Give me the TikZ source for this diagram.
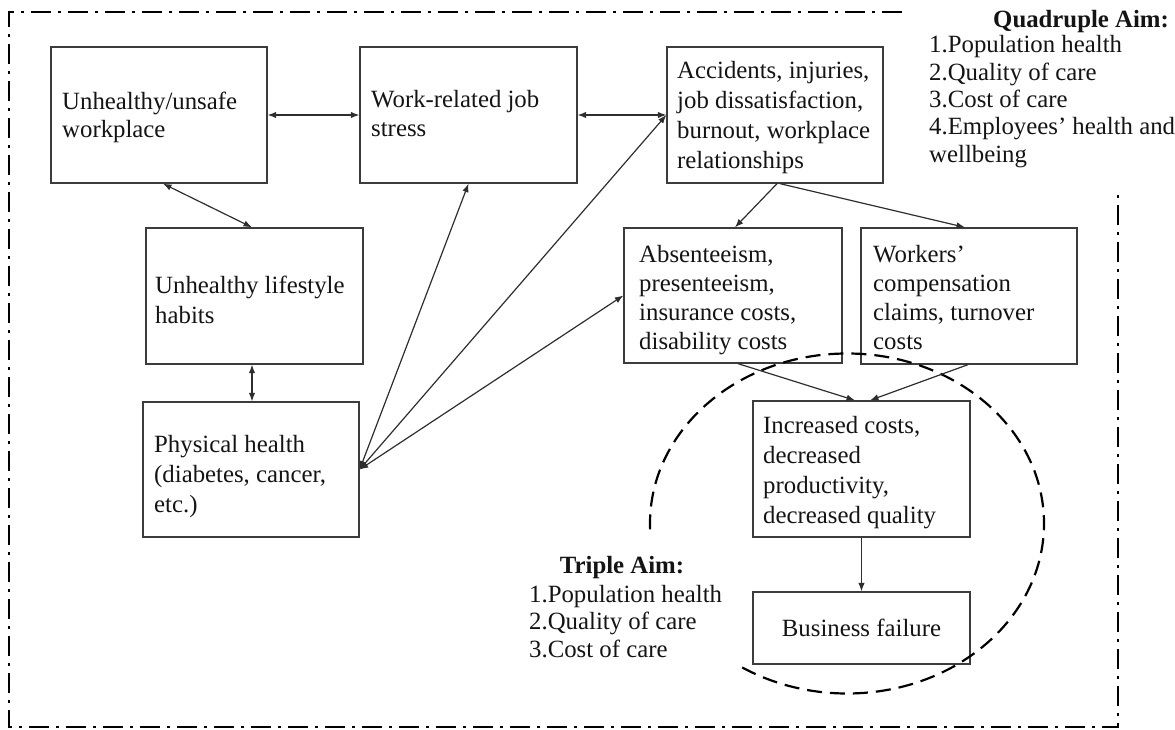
\documentclass[tikz,border=0pt]{standalone}
\usepackage{fontspec}
\setmainfont{Liberation Serif}
\usetikzlibrary{arrows.meta,calc}

\definecolor{boxgray}{HTML}{3C3C3C}
\definecolor{arrowgray}{HTML}{2E2E2E}
\definecolor{inkblack}{HTML}{141414}

% stacked lines with a fixed baseline distance; the baseline is that of the first line
\newcommand\stk[2]{\vtop{\baselineskip=#1\relax\lineskiplimit=-30pt\relax #2}}

\tikzset{
  box/.style={draw=boxgray, line width=1.3pt, rectangle, inner sep=0pt,
              font=\fontsize{24.8pt}{28pt}\selectfont, text=inkblack},
  txt/.style={anchor=base west, inner sep=0pt,
              font=\fontsize{24.8pt}{28pt}\selectfont, text=inkblack},
  aimhead/.style={inner sep=0pt, font=\fontsize{24.8pt}{28pt}\selectfont\bfseries, text=inkblack},
  tip/.tip={Latex[length=8.5pt,width=6.5pt]},
  link/.style={draw=arrowgray, line width=1.2pt, -tip},
  both/.style={draw=arrowgray, line width=1.2pt, tip-tip},
  frame/.style={draw=black, line width=2.3pt, dash pattern=on 20pt off 7pt on 3pt off 7pt},
  aimring/.style={draw=black, line width=2.2pt, dash pattern=on 15pt off 8pt},
}

\begin{document}
\begin{tikzpicture}[x=1pt, y=-1pt]
\useasboundingbox (0,0) rectangle (1175,730);

% outer dash-dot frame, open at the top right corner
\draw[frame] (902,12) -- (9,12) -- (9,727) -- (1118,727) -- (1118,188);

% boxes
\node[box, minimum width=216pt, minimum height=136pt] (b1) at (159,115) {};
\node[box, minimum width=217pt, minimum height=136pt] (b2) at (468.5,115) {};
\node[box, minimum width=216pt, minimum height=136pt] (b3) at (775,115) {};
\node[box, minimum width=217pt, minimum height=136pt] (b4) at (254.5,296) {};
\node[box, minimum width=216pt, minimum height=135pt] (b5) at (251,469.5) {};
\node[box, minimum width=218pt, minimum height=135pt] (b6) at (733,295.5) {};
\node[box, minimum width=216pt, minimum height=136pt] (b7) at (969,296) {};
\node[box, minimum width=217pt, minimum height=136pt] (b8) at (861.5,469) {};
\node[box, minimum width=217pt, minimum height=72pt] (b9) at (861.5,628) {Business failure};

% box texts
\node[txt] (t1) at (62,110) {\stk{28pt}{\hbox{Unhealthy/unsafe}\hbox{workplace}}};
\node[txt] (t2) at (371,108) {\stk{29pt}{\hbox{Work-related job}\hbox{stress}}};
\node[txt] (t3) at (677,79) {\stk{29.7pt}{\hbox{Accidents, injuries,}\hbox{job dissatisfaction,}\hbox{burnout, workplace}\hbox{relationships}}};
\node[txt] (t4) at (155,293) {\stk{30pt}{\hbox{Unhealthy lifestyle}\hbox{habits}}};
\node[txt] (t5) at (154,452) {\stk{30pt}{\hbox{Physical health}\hbox{(diabetes, cancer,}\hbox{etc.)}}};
\node[txt] (t6) at (639,262) {\stk{29.3pt}{\hbox{Absenteeism,}\hbox{presenteeism,}\hbox{insurance costs,}\hbox{disability costs}}};
\node[txt] (t7) at (873,262) {\stk{29.3pt}{\hbox{Workers’}\hbox{compensation}\hbox{claims, turnover}\hbox{costs}}};
\node[txt] (t8) at (763,433) {\stk{30pt}{\hbox{Increased costs,}\hbox{decreased}\hbox{productivity,}\hbox{decreased quality}}};

% aims
\node[aimhead, anchor=base west] (qhead) at (993,28) {Quadruple Aim:};
\node[txt] (qlist) at (929,53) {\stk{27.3pt}{\hbox{1.Population health}\hbox{2.Quality of care}\hbox{3.Cost of care}\hbox{4.Employees’ health and}\hbox{wellbeing}}};
\node[aimhead, anchor=base] (thead) at (622,573) {Triple Aim:};
\node[txt] (tlist) at (529,602) {\stk{27.5pt}{\hbox{1.Population health}\hbox{2.Quality of care}\hbox{3.Cost of care}}};

% dashed ring around the outcome boxes, open on the lower left
\draw[aimring] ([shift={(178:197 and 170)}]847,523.5) arc[start angle=178, end angle=484, x radius=197, y radius=170];

% connectors
\draw[both] (b1.east) -- (b2.west);
\draw[both] (b2.east) -- (b3.west);
\draw[both] ([xshift=4pt]b1.south) -- ([xshift=-2.5pt]b4.north);
\draw[both] ([xshift=-2.5pt]b4.south) -- ([xshift=1pt]b5.north);
\draw[both] (b5.east) -- (b2.south);
\draw[both] (b5.east) -- (b3.west);
\draw[both] (b5.east) -- (b6.west);
\draw[link] ([xshift=2pt]b3.south) -- ([xshift=2pt]b6.north);
\draw[link] ([xshift=5pt]b3.south) -- ([xshift=-4pt]b7.north);
\draw[link] ([xshift=5pt]b6.south) -- ([xshift=-6.5pt]b8.north);
\draw[link] ([xshift=-1pt]b7.south) -- ([xshift=8.5pt]b8.north);
\draw[link] (b8.south) -- (b9.north);
\end{tikzpicture}
\end{document}
